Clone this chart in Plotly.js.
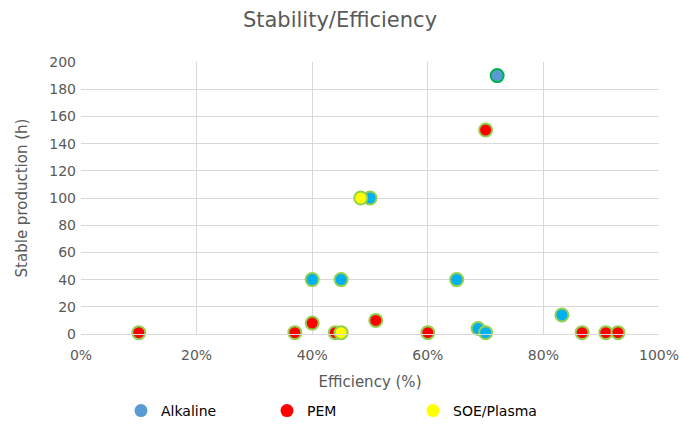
<!DOCTYPE html>
<html><head><meta charset="utf-8">
<script src="https://cdn.plot.ly/plotly-3.0.1.min.js"></script>
<style>body{margin:0;background:#fff}#chart{width:680px;height:425px}</style>
</head><body><div id="chart"></div>
<script>
const alkalineEff = [0.72, 0.50, 0.40, 0.45, 0.65, 0.832, 0.687, 0.70];
const alkalineHours = [190, 100, 40, 40, 40, 14, 4, 1];
const pemEff = [0.70, 0.10, 0.37, 0.40, 0.44, 0.51, 0.60, 0.867, 0.908, 0.929];
const pemHours = [150, 1, 1, 8, 1, 10, 1, 1, 1, 1];
const soeEff = [0.484, 0.45];
const soeHours = [100, 1];
const seriesNames = ['Alkaline', 'PEM', 'SOE/Plasma'];
const xTickVals = [0, 0.2, 0.4, 0.6, 0.8, 1.0];
const xTickText = ['0%', '20%', '40%', '60%', '80%', '100%'];
const yTickVals = [0, 20, 40, 60, 80, 100, 120, 140, 160, 180, 200];

const gray = '#595959';
const font = 'DejaVu Sans, sans-serif';
const mk = (fill, border) => ({size: 13, color: fill, line: {color: border, width: 2}});

const alkFill = alkalineEff.map((_, i) => i === 0 ? '#5B9BD5' : '#00B0F0');
const alkLine = alkalineEff.map((_, i) => i === 0 ? '#00B050' : '#92D050');

const traces = [
  {x: alkalineEff, y: alkalineHours, type: 'scatter', mode: 'markers', cliponaxis: false, showlegend: false,
   marker: {size: 13, color: alkFill, line: {color: alkLine, width: 2}}},
  {x: pemEff, y: pemHours, type: 'scatter', mode: 'markers', cliponaxis: false, showlegend: false,
   marker: mk('#FF0000', '#92D050')},
  {x: soeEff, y: soeHours, type: 'scatter', mode: 'markers', cliponaxis: false, showlegend: false,
   marker: mk('#FFFF00', '#92D050')},
  {x: [null], y: [null], type: 'scatter', mode: 'markers', name: seriesNames[0], marker: {size: 13, color: '#5B9BD5'}},
  {x: [null], y: [null], type: 'scatter', mode: 'markers', name: seriesNames[1], marker: {size: 13, color: '#FF0000'}},
  {x: [null], y: [null], type: 'scatter', mode: 'markers', name: seriesNames[2], marker: {size: 13, color: '#FFFF00'}}
];

const layout = {
  width: 680, height: 425,
  margin: {l: 81, r: 21, t: 62, b: 91},
  paper_bgcolor: '#fff', plot_bgcolor: '#fff',
  font: {family: font, color: gray, size: 14},
  title: {text: 'Stability/Efficiency', font: {size: 21, color: gray, family: font}, x: 0.5, xanchor: 'center', y: 0.953, yanchor: 'middle'},
  xaxis: {range: [0, 1], tickvals: xTickVals, ticktext: xTickText, showgrid: true, gridcolor: '#D9D9D9', gridwidth: 1,
    zeroline: false, showline: true, linecolor: '#D9D9D9', mirror: false, ticks: '', ticklabelstandoff: 8,
    tickfont: {size: 14, color: gray},
    title: {text: 'Efficiency (%)', font: {size: 15, color: gray}, standoff: 14}},
  yaxis: {range: [0, 200], tickvals: yTickVals, showgrid: true, gridcolor: '#D9D9D9', gridwidth: 1,
    zeroline: false, showline: false, ticks: '', ticklabelstandoff: 4, tickfont: {size: 14, color: gray},
    title: {text: 'Stable production (h)', font: {size: 15, color: gray}, standoff: 18}},
  legend: {orientation: 'h', x: 0.5, xanchor: 'center', xref: 'container', yref: 'container', y: 0.033, yanchor: 'middle',
    font: {size: 14, color: '#000'}, itemwidth: 30, entrywidth: 101}
};
Plotly.newPlot('chart', traces, layout, {displayModeBar: false, staticPlot: true});
</script></body></html>
